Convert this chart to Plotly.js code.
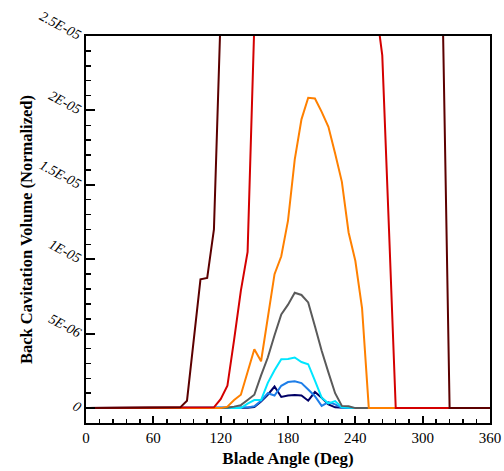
<!DOCTYPE html>
<html>
<head>
<meta charset="utf-8">
<script src="https://cdn.plot.ly/plotly-3.0.1.min.js"></script>
<style>html,body{margin:0;padding:0;background:#fff;}#chart{width:504px;height:471px;}</style>
</head>
<body>
<div id="chart"></div>
<script>
// Blade angle (deg)
const angles = [0,6,12,18,24,30,36,42,48,54,60,66,72,78,84,90,96,102,108,114,120,126,132,138,144,150,156,162,168,174,180,186,192,198,204,210,216,222,228,234,240,246,252,258,264,270,276,282,288,294,300,306,312,318,324,330,336,342,348,354,360];

// Back cavitation volume (normalized); values above 2.5E-05 are clipped by the axis
const maroon = [0,0,0,0,0,0,0,0,0,0,0,0,0,0,0.05e-6,0.5e-6,4.5e-6,8.65e-6,8.75e-6,12.0e-6,26.5e-6,40e-6,52e-6,62e-6,70e-6,76e-6,80e-6,83e-6,85e-6,86e-6,86e-6,85e-6,84e-6,82e-6,80e-6,77e-6,74e-6,71e-6,68e-6,65e-6,62e-6,59e-6,56e-6,53e-6,50e-6,47e-6,44e-6,41e-6,38e-6,35e-6,32e-6,30e-6,28e-6,26e-6,0,0,0,0,0,0,0];
const red = [0,0,0,0,0,0,0,0,0,0,0,0,0,0,0,0,0,0,0,0.05e-6,0.6e-6,1.5e-6,4.6e-6,7.9e-6,10.5e-6,25.8e-6,38e-6,46e-6,52e-6,56e-6,58e-6,59e-6,59e-6,58e-6,56e-6,53e-6,50e-6,46e-6,42e-6,38e-6,35e-6,32e-6,30e-6,27.2e-6,23.7e-6,12.0e-6,0,0,0,0,0,0,0,0,0,0,0,0,0,0,0];
const orange = [0,0,0,0,0,0,0,0,0,0,0,0,0,0,0,0,0,0,0,0,0,0.1e-6,0.55e-6,0.9e-6,2.4e-6,3.95e-6,3.15e-6,6.0e-6,9.0e-6,10.2e-6,12.6e-6,16.7e-6,19.4e-6,20.85e-6,20.8e-6,19.9e-6,18.9e-6,17.1e-6,15.2e-6,11.8e-6,9.9e-6,6.7e-6,0,0,0,0,0,0,0,0,0,0,0,0,0,0,0,0,0,0,0];
const gray = [0,0,0,0,0,0,0,0,0,0,0,0,0,0,0,0,0,0,0,0,0,0.03e-6,0.1e-6,0.2e-6,0.55e-6,0.9e-6,2.2e-6,3.4e-6,4.9e-6,6.3e-6,6.95e-6,7.75e-6,7.6e-6,7.1e-6,5.5e-6,3.85e-6,2.4e-6,1.0e-6,0.15e-6,0.12e-6,0,0,0,0,0,0,0,0,0,0,0,0,0,0,0,0,0,0,0,0,0];
const cyan = [0,0,0,0,0,0,0,0,0,0,0,0,0,0,0,0,0,0,0,0,0,0,0,0,0.3e-6,0.54e-6,0.54e-6,1.7e-6,2.55e-6,3.28e-6,3.3e-6,3.4e-6,3.1e-6,2.95e-6,1.85e-6,0.7e-6,0.32e-6,0.47e-6,0.05e-6,0,0,0,0,0,0,0,0,0,0,0,0,0,0,0,0,0,0,0,0,0,0];
const blue = [0,0,0,0,0,0,0,0,0,0,0,0,0,0,0,0,0,0,0,0,0,0,0,0,0.05e-6,0.12e-6,0.5e-6,1.0e-6,0.85e-6,1.5e-6,1.75e-6,1.8e-6,1.68e-6,1.25e-6,0.8e-6,0.15e-6,0.4e-6,0.25e-6,0.02e-6,0,0,0,0,0,0,0,0,0,0,0,0,0,0,0,0,0,0,0,0,0,0];
const navy = [0,0,0,0,0,0,0,0,0,0,0,0,0,0,0,0,0,0,0,0,0,0,0,0,0.03e-6,0.08e-6,0.45e-6,0.9e-6,1.45e-6,0.75e-6,0.85e-6,0.88e-6,0.85e-6,0.5e-6,1.08e-6,0.7e-6,0.25e-6,0.05e-6,0,0,0,0,0,0,0,0,0,0,0,0,0,0,0,0,0,0,0,0,0,0,0];

const yTickVals = [0,5e-6,1e-5,1.5e-5,2e-5,2.5e-5];
const yTickText = ['0','5E-06','1E-05','1.5E-05','2E-05','2.5E-05'];
const xTickVals = [0,60,120,180,240,300,360];

const series = [
  {y: navy, color: '#000066'},
  {y: blue, color: '#1e7ee8'},
  {y: cyan, color: '#00e6ff'},
  {y: gray, color: '#5a5a5a'},
  {y: orange, color: '#ff8000'},
  {y: red, color: '#d40000'},
  {y: maroon, color: '#5c0000'}
];

const traces = series.map(s => ({
  x: angles, y: s.y, type: 'scatter', mode: 'lines',
  line: {color: s.color, width: 2}, showlegend: false, hoverinfo: 'skip'
}));

const serif = 'Liberation Serif, Times New Roman, serif';
const layout = {
  width: 504, height: 471,
  margin: {l: 86, r: 14, t: 36, b: 48},
  paper_bgcolor: '#fff', plot_bgcolor: '#fff',
  xaxis: {
    range: [0, 360], tickvals: xTickVals, ticks: 'inside', ticklen: 7, tickwidth: 2,
    tickcolor: '#000', showline: true, linewidth: 2, linecolor: '#000', mirror: true,
    showgrid: false, zeroline: false,
    tickfont: {family: serif, size: 15, color: '#000'},
    minor: {dtick: 12, ticks: 'inside', ticklen: 4, tickwidth: 1.5, tickcolor: '#000', showgrid: false},
    title: {text: 'Blade Angle (Deg)', font: {family: serif, size: 17, color: '#000', weight: 'bold'}, standoff: 7}
  },
  yaxis: {
    range: [-1e-6, 2.5e-5], tickvals: yTickVals, ticktext: yTickText, ticks: 'inside', ticklen: 9, tickwidth: 2,
    tickcolor: '#000', showline: true, linewidth: 2, linecolor: '#000', mirror: true,
    showgrid: false, zeroline: false, tickangle: 28,
    tickfont: {family: serif, size: 14, color: '#000', style: 'italic'},
    minor: {dtick: 1e-6, tick0: 0, ticks: 'inside', ticklen: 5, tickwidth: 1.5, tickcolor: '#000', showgrid: false},
    title: {text: 'Back Cavitation Volume (Normalized)', font: {family: serif, size: 16.5, color: '#000', weight: 'bold'}, standoff: 0}
  }
};

Plotly.newPlot('chart', traces, layout, {staticPlot: true, displayModeBar: false});
</script>
</body>
</html>
